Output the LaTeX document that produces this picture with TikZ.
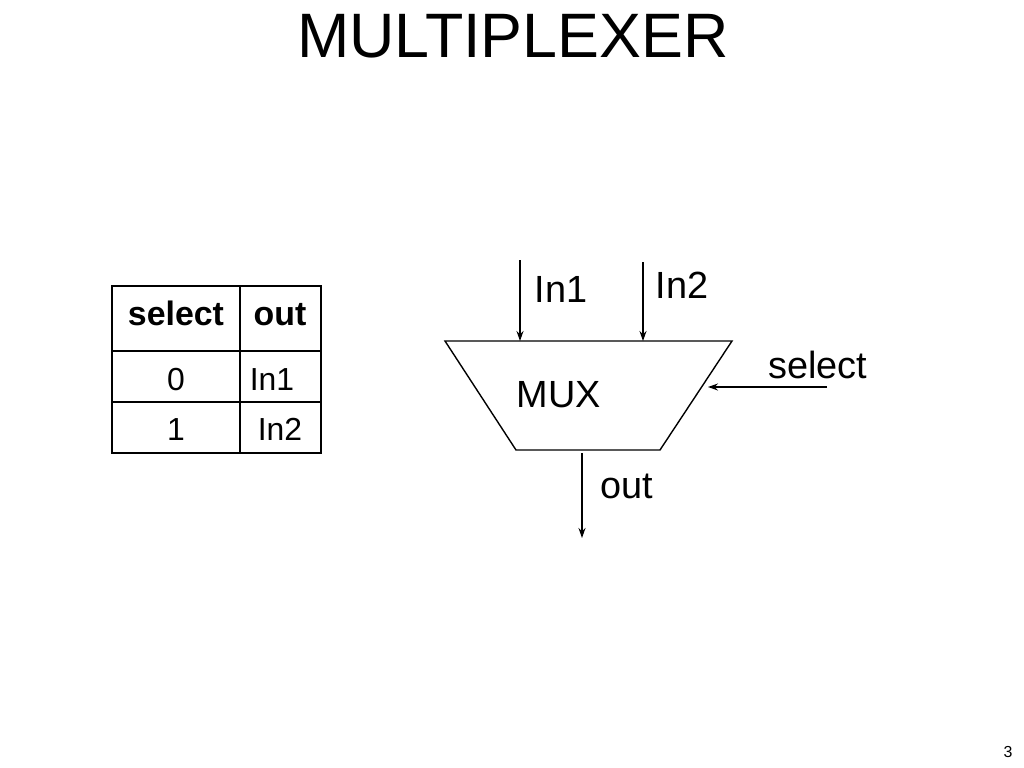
\documentclass[tikz,border=0pt]{standalone}
\usepackage{fontspec}
\setmainfont{Liberation Sans}
\usetikzlibrary{arrows.meta, positioning}
\tikzset{
  lbl/.style={inner sep=0pt, anchor=base, font=\fontsize{19}{23}\selectfont},
  cell/.style={inner sep=0pt, anchor=base, font=\fontsize{16}{19}\selectfont},
  hdr/.style={cell, font=\fontsize{17}{20}\selectfont\bfseries},
  wire/.style={-{Stealth[length=5pt, width=3.5pt]}}
}
\begin{document}
\begin{tikzpicture}[x=0.5bp, y=-0.5bp, line width=0.7pt]
      \useasboundingbox (0,0) rectangle (1024,768);
      \node[inner sep=0pt, anchor=base, font=\fontsize{31.5}{36}\selectfont] (title) at (513,57) {MULTIPLEXER};
      % truth table
      \draw (112,286) rectangle (321,453);
      \draw (240,286) -- (240,453);
      \foreach \y in {351,402} % row lines
      \draw (112,\y) -- (321,\y);
      \node[hdr] (hsel) at (176,325) {select};
      \node[hdr] (hout) at (280,325) {out};
      \node[cell] (s0) at (176,390) {0};
      \node[cell] (o0) at (272,390) {In1};
      \node[cell] (s1) at (176,440) {1};
      \node[cell] (o1) at (280,440) {In2};
      % mux block
      \draw (445,341) -- (732,341) -- (660,450) -- (516,450) -- cycle;
      \node[lbl] (mux) at (559,407) {MUX};
      \coordinate (in1top) at (520,260);
      \coordinate (in1end) at (520,341);
      \coordinate (in2top) at (643,262);
      \coordinate (in2end) at (643,341);
      \coordinate (selstart) at (827,387);
      \coordinate (selend) at (708,387);
      \coordinate (outstart) at (582,453);
      \coordinate (outend) at (582,538);
      \draw[wire] (in1top) -- (in1end);
      \draw[wire] (in2top) -- (in2end);
      \draw[wire] (selstart) -- (selend);
      \draw[wire] (outstart) -- (outend);
      \node[lbl] (in1) at (561,302) {In1};
      \node[lbl] (in2) at (682,298) {In2};
      \node[lbl] (sel) at (818,378) {select};
      \node[lbl] (out) at (627,498) {out};
      \node[inner sep=0pt, anchor=base, font=\fontsize{8}{10}\selectfont] (page) at (1008,757) {3};
\end{tikzpicture}
\end{document}
